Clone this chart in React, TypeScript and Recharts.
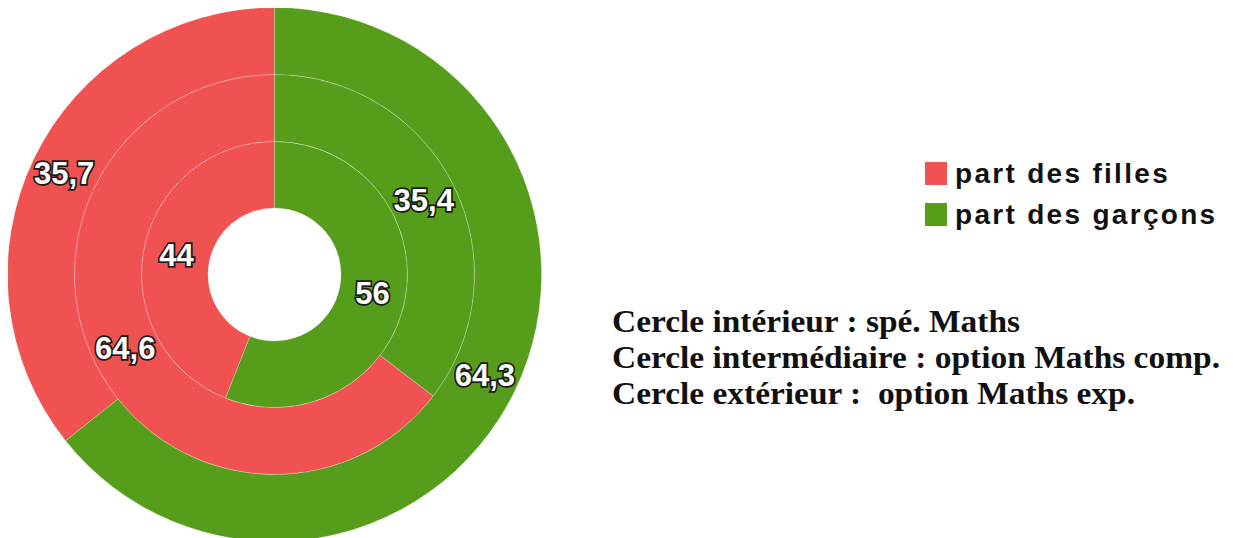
import { PieChart, Pie, Cell, Legend } from "recharts";

// ordre : filles puis garçons
const groups = ["part des filles", "part des garçons"];
const colors = ["#F05252", "#579D1C"];

const specMaths = [44, 56]; // cercle intérieur
const mathsComp = [64.6, 35.4]; // cercle intermédiaire
const mathsExp = [35.7, 64.3]; // cercle extérieur

const notes = [
  "Cercle intérieur : spé. Maths",
  "Cercle intermédiaire : option Maths comp.",
  "Cercle extérieur :  option Maths exp.",
];
// le texte de l'image d'origine est étiré en largeur
const noteWidths = [408, 608, 523];

const toData = (values: number[]) =>
  groups.map((name, i) => ({ name, value: values[i] }));

const RADIAN = Math.PI / 180;
const fmt = (v: number) => String(v).replace(".", ",");

function renderLabel(props: any) {
  const { cx, cy, midAngle, innerRadius, outerRadius, value } = props;
  const r = (innerRadius + outerRadius) / 2;
  const x = cx + r * Math.cos(-midAngle * RADIAN);
  const y = cy + r * Math.sin(-midAngle * RADIAN);
  return (
    <text
      x={x}
      y={y}
      textAnchor="middle"
      dominantBaseline="central"
      fill="#fff"
      stroke="#1a1a1a"
      strokeWidth={3.5}
      paintOrder="stroke"
      style={{ fontFamily: "Liberation Sans", fontWeight: 700, fontSize: 31 }}
    >
      {fmt(value)}
    </text>
  );
}

function LegendBox() {
  return (
    <div style={{ fontFamily: "Liberation Sans", fontWeight: 700, fontSize: 28 }}>
      {groups.map((g, i) => (
        <div
          key={g}
          style={{ display: "flex", alignItems: "center", height: 41, letterSpacing: 2.3 }}
        >
          <span
            style={{
              display: "inline-block",
              width: 22,
              height: 23,
              background: colors[i],
              marginRight: 8,
              flexShrink: 0,
            }}
          />
          <span style={{ color: "#111", whiteSpace: "nowrap" }}>{g}</span>
        </div>
      ))}
    </div>
  );
}

const rings = [
  { key: "inner", values: specMaths, inner: 66.5, outer: 133 },
  { key: "middle", values: mathsComp, inner: 133, outer: 200 },
  { key: "outer", values: mathsExp, inner: 200, outer: 267 },
];

export default function App() {
  return (
    <div style={{ position: "relative", width: 1225, height: 530 }}>
      <PieChart width={1225} height={530} margin={{ top: 0, right: 0, bottom: 0, left: 0 }}>
        {rings.map((ring) => (
          <Pie
            key={ring.key}
            data={toData(ring.values)}
            dataKey="value"
            nameKey="name"
            cx={266.5}
            cy={266.5}
            innerRadius={ring.inner}
            outerRadius={ring.outer}
            startAngle={90}
            endAngle={450}
            stroke="rgba(255,255,255,0.22)"
            strokeWidth={1}
            label={renderLabel}
            labelLine={false}
            isAnimationActive={false}
          >
            {ring.values.map((_, i) => (
              <Cell key={i} fill={colors[i]} />
            ))}
          </Pie>
        ))}
        <Legend
          content={() => <LegendBox />}
          layout="vertical"
          align="right"
          verticalAlign="top"
          wrapperStyle={{ left: 917, top: 145, width: 300, right: "auto" }}
        />
      </PieChart>
      <svg
        width={630}
        height={120}
        style={{ position: "absolute", left: 592, top: 290 }}
      >
        {notes.map((t, i) => (
          <text
            key={t}
            x={12}
            y={34 + i * 36}
            fill="#111"
            textLength={noteWidths[i]}
            lengthAdjust="spacingAndGlyphs"
            style={{ fontFamily: "Liberation Serif", fontWeight: 700, fontSize: 31, whiteSpace: "pre" }}
          >
            {t}
          </text>
        ))}
      </svg>
    </div>
  );
}
